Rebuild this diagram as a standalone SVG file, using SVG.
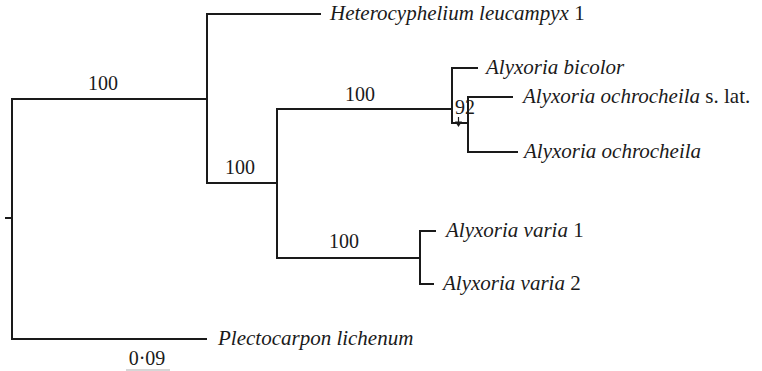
<svg xmlns="http://www.w3.org/2000/svg" width="762" height="371" viewBox="0 0 762 371">
<defs>
<style>
.b{fill:none;stroke:#1a1a1a;stroke-width:2;stroke-linecap:square}
.t{font-family:"Liberation Serif","Times New Roman",serif;font-size:21px;fill:#1a1a1a}
.i{font-style:italic}
.s{font-family:"Liberation Serif","Times New Roman",serif;font-size:20px;fill:#1a1a1a;text-anchor:middle}
</style>
</defs>
<g id="connectors">
<path class="b" d="M6,218 H12 M12,99 V339 M12,99 H207 M207,14 V183 M207,14 H320 M207,183 H277 M277,109 V258 M277,109 H452 M452,68 V123 M452,68 H477 M452,123 H468 M468,97 V152 M468,97 H512 M468,152 H517 M277,258 H420 M420,231 V284 M420,231 H435 M420,284 H433 M12,339 H206"/>
<line x1="458.5" y1="117" x2="458.5" y2="123" stroke="#1a1a1a" stroke-width="1.2"/>
<polygon points="455,121.5 462,121.5 458.5,127" fill="#1a1a1a"/>
<line x1="126" y1="370" x2="170" y2="370" stroke="#c8c8c8" stroke-width="1.5"/>
</g>
<g id="labels">
<text class="s" x="103" y="90">100</text>
<text class="s" x="240" y="174">100</text>
<text class="s" x="360" y="101">100</text>
<text class="s" x="344" y="248">100</text>
<text class="s" x="455" y="114" style="text-anchor:start">92</text>
<text class="s" x="147" y="365">0·09</text>
</g>
<g id="n-heterocyphelium"><text class="t" x="330" y="20"><tspan class="i">Heterocyphelium leucampyx</tspan> 1</text></g>
<g id="n-bicolor"><text class="t i" x="486" y="74">Alyxoria bicolor</text></g>
<g id="n-ochro-slat"><text class="t" x="523" y="103"><tspan class="i">Alyxoria ochrocheila</tspan> s. lat.</text></g>
<g id="n-ochro"><text class="t i" x="524" y="158">Alyxoria ochrocheila</text></g>
<g id="n-varia1"><text class="t" x="446" y="237"><tspan class="i">Alyxoria varia</tspan> 1</text></g>
<g id="n-varia2"><text class="t" x="443" y="290"><tspan class="i">Alyxoria varia</tspan> 2</text></g>
<g id="n-plecto"><text class="t i" x="218" y="345">Plectocarpon lichenum</text></g>
</svg>
